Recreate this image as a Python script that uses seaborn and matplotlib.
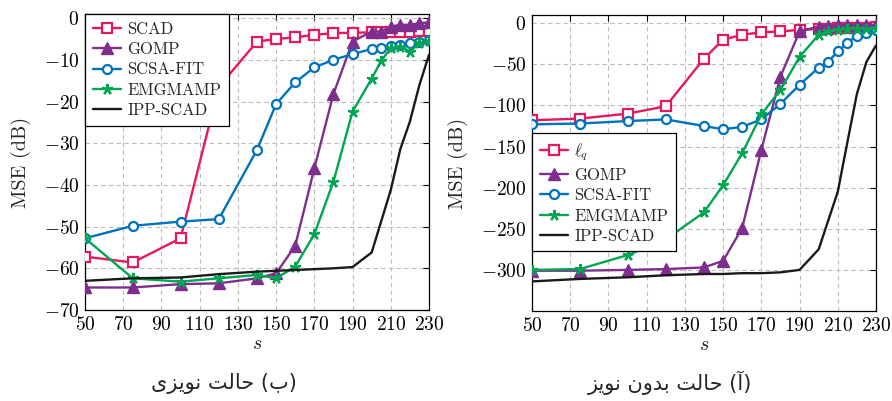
import numpy as np
import pandas as pd
import matplotlib
matplotlib.use("Agg")
import matplotlib.pyplot as plt
import seaborn as sns

# ---------------- data ----------------
s_vals = [50, 75, 100, 120, 140, 150, 160, 170, 180, 190, 200, 205, 210, 215, 220, 225, 230]

# noisy case (left panel)
noisy_scad = [-57.2, -58.6, -52.8, -16.5, -5.6, -5.0, -4.6, -4.0, -3.6, -3.5, -3.4, -3.4, -3.3, -3.3, -3.2, -3.1, -3.0]
noisy_gomp = [-64.6, -64.6, -63.8, -63.6, -62.4, -61.2, -54.6, -36.0, -18.2, -5.6, -3.2, -3.2, -2.0, -1.6, -1.6, -1.2, -1.0]
noisy_scsa = [-52.8, -49.8, -48.8, -48.2, -31.6, -20.6, -15.4, -11.8, -10.0, -8.6, -7.4, -7.2, -6.6, -6.4, -6.0, -5.6, -5.2]
noisy_emg = [-52.8, -62.4, -63.2, -62.4, -61.6, -62.4, -59.6, -51.8, -39.2, -22.4, -14.5, -10.2, -7.2, -6.8, -8.0, -6.0, -5.4]
noisy_ipp = [-63.0, -62.4, -62.2, -61.4, -60.8, -60.6, -60.4, -60.2, -60.0, -59.7, -56.2, -48.7, -41.2, -31.4, -24.8, -16.0, -8.8]

# noiseless case (right panel)
clean_lq = [-118, -116, -110, -101, -43, -20, -14, -11, -10, -8, -7, -6.5, -6, -6, -5.5, -5.5, -5]
clean_gomp = [-301, -301, -300, -299, -297, -289, -249, -154, -65, -10, -4, -3, -2.5, -2, -2, -2, -2]
clean_scsa = [-123, -122, -119, -117, -125, -129, -126, -117, -98, -75, -54, -47, -34, -24, -15, -12, -8]
clean_emg = [-300, -299, -282, -263, -230, -197, -158, -111, -81, -41, -14, -10, -8, -7, -7, -7, -7]
clean_ipp = [-314, -311, -309, -306.5, -305, -305, -304, -304, -303, -300, -275, -240, -205, -145, -86, -47, -27]

labels_noisy = ["SCAD", "GOMP", "SCSA-FIT", "EMGMAMP", "IPP-SCAD"]
labels_clean = [r"$\ell_q$", "GOMP", "SCSA-FIT", "EMGMAMP", "IPP-SCAD"]
x_ticks = [50, 70, 90, 110, 130, 150, 170, 190, 210, 230]
y_ticks_noisy = [0, -10, -20, -30, -40, -50, -60, -70]
y_ticks_clean = [0, -50, -100, -150, -200, -250, -300]
ylabel = "MSE (dB)"
xlabel = "$s$"
caption_noisy = "(ب) حالت نویزی"
caption_clean = "(آ) حالت بدون نویز"

# ---------------- styles ----------------
RED = "#E5195E"
PURPLE = "#7E2F8E"
BLUE = "#0072BD"
GREEN = "#00A651"
BLACK = "#1a1a1a"
styles = [
    dict(color=RED, marker="s", markerfacecolor="white", markeredgecolor=RED, markersize=6.5, markeredgewidth=1.6),
    dict(color=PURPLE, marker="^", markerfacecolor=PURPLE, markeredgecolor=PURPLE, markersize=8, markeredgewidth=1.0),
    dict(color=BLUE, marker="o", markerfacecolor="white", markeredgecolor=BLUE, markersize=6.5, markeredgewidth=1.6),
    dict(color=GREEN, marker=(5, 2, 0), markerfacecolor=GREEN, markeredgecolor=GREEN, markersize=8, markeredgewidth=1.6),
    dict(color=BLACK, marker=None),
]

sns.set_theme(style="white")
plt.rcParams.update({
    "font.family": "serif",
    "font.serif": ["cmr10", "DejaVu Serif"],
    "mathtext.fontset": "cm",
    "axes.formatter.use_mathtext": True,
    "axes.unicode_minus": True,
})

# --------- simple Persian shaping (presentation forms, visual order) ---------
FORMS = {  # isolated, final, initial, medial
    'ب': ('\uFE8F', '\uFE90', '\uFE91', '\uFE92'),
    'ح': ('\uFEA1', '\uFEA2', '\uFEA3', '\uFEA4'),
    'ا': ('\uFE8D', '\uFE8E', None, None),
    'آ': ('\uFE81', '\uFE82', None, None),
    'ل': ('\uFEDD', '\uFEDE', '\uFEDF', '\uFEE0'),
    'ت': ('\uFE95', '\uFE96', '\uFE97', '\uFE98'),
    'ن': ('\uFEE5', '\uFEE6', '\uFEE7', '\uFEE8'),
    'و': ('\uFEED', '\uFEEE', None, None),
    'ی': ('\uFBFC', '\uFBFD', '\uFBFE', '\uFBFF'),
    'ز': ('\uFEAF', '\uFEB0', None, None),
    'د': ('\uFEA9', '\uFEAA', None, None),
}


def shape(text):
    out = []
    for i, ch in enumerate(text):
        if ch not in FORMS:
            out.append(ch)
            continue
        prev = text[i - 1] if i > 0 else ''
        nxt = text[i + 1] if i + 1 < len(text) else ''
        jp = prev in FORMS and FORMS[prev][2] is not None
        jn = nxt in FORMS and FORMS[ch][2] is not None
        f = FORMS[ch]
        if jp and jn:
            g = f[3]
        elif jp:
            g = f[1]
        elif jn:
            g = f[2]
        else:
            g = f[0]
        out.append(g)
    vis = ''.join(reversed(out))
    return vis.translate(str.maketrans('()', ')('))


fig = plt.figure(figsize=(8.92, 4.01), dpi=100)
axL = fig.add_axes([85 / 892, 1 - 310 / 401, 344 / 892, 296 / 401])
axR = fig.add_axes([532 / 892, 1 - 311 / 401, 344 / 892, 296 / 401])


def draw(ax, series, labels, yticks, ylim):
    for ys, lab, st in zip(series, labels, styles):
        sns.lineplot(x=s_vals, y=ys, ax=ax, label=lab, linewidth=1.7,
                     legend=False, zorder=3, **st)
    ax.set_xlim(50, 230)
    ax.set_ylim(*ylim)
    ax.set_xticks(x_ticks)
    ax.set_yticks(yticks)
    ax.grid(True, color="#bdbdbd", linestyle=(0, (4, 3)), linewidth=0.8)
    ax.tick_params(direction="in", length=4, width=0.8, top=True, right=True,
                   labelsize=14, pad=4, colors="black")
    for sp in ax.spines.values():
        sp.set_color("black")
        sp.set_linewidth(0.9)
    ax.set_ylabel(ylabel, fontsize=14.5, labelpad=9)
    ax.set_xlabel(xlabel, fontsize=14.5, labelpad=1)


draw(axL, [noisy_scad, noisy_gomp, noisy_scsa, noisy_emg, noisy_ipp], labels_noisy,
     y_ticks_noisy, (-70, 1))
draw(axR, [clean_lq, clean_gomp, clean_scsa, clean_emg, clean_ipp], labels_clean,
     y_ticks_clean, (-350, 10))

legkw = dict(fontsize=12, frameon=True, fancybox=False, edgecolor="black",
             framealpha=1, handlelength=1.7, handletextpad=0.4, borderpad=0.45,
             labelspacing=0.3, borderaxespad=0)
lgL = axL.legend(loc="upper left", **legkw)
lgR = axR.legend(loc="upper left", bbox_to_anchor=(0, 0.60), **legkw)
for lg in (lgL, lgR):
    lg.get_frame().set_linewidth(0.9)
    lg.set_zorder(5)

fig.text(224 / 892, 1 - 383 / 401, shape(caption_noisy), ha="center", va="center",
         fontsize=15, family=["DejaVu Sans"])
fig.text(670 / 892, 1 - 383 / 401, shape(caption_clean), ha="center", va="center",
         fontsize=15, family=["DejaVu Sans"])

fig.savefig("out.png", dpi=100, facecolor="white")
